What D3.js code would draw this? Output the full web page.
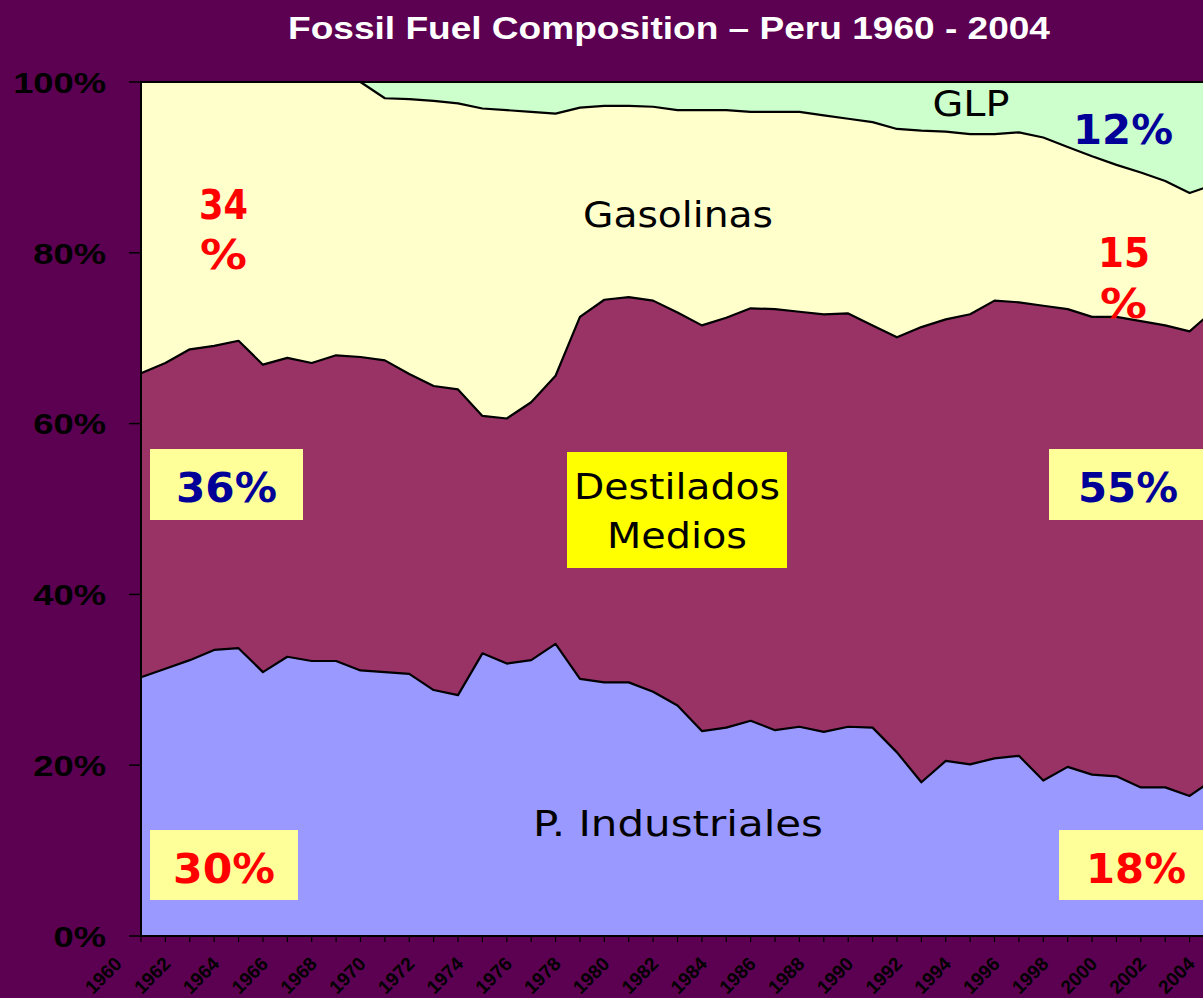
<!DOCTYPE html>
<html>
<head>
<meta charset="utf-8">
<script src="https://cdn.jsdelivr.net/npm/d3@7"></script>
<style>
  body { margin: 0; background: #5c0052; overflow: hidden; }
  svg { display: block; }
</style>
</head>
<body>
<svg id="chart" width="1203" height="998"></svg>
<script>
// Shares (%) of each fuel per year.
var years = d3.range(1960, 2005);
var industriales = [30.3, 31.3, 32.3, 33.5, 33.7, 30.9, 32.7, 32.2, 32.2, 31.1,
  30.9, 30.7, 28.8, 28.2, 33.1, 31.9, 32.3, 34.2, 30.1, 29.7,
  29.7, 28.6, 27.0, 24.0, 24.4, 25.2, 24.1, 24.5, 23.9, 24.5,
  24.4, 21.5, 18.0, 20.5, 20.1, 20.8, 21.1, 18.2, 19.8, 18.9,
  18.7, 17.4, 17.4, 16.4, 18.4];
var destilados = [35.6, 35.8, 36.4, 35.6, 36.0, 36.0, 35.0, 34.9, 35.8, 36.7,
  36.5, 35.1, 35.6, 35.8, 27.8, 28.7, 30.2, 31.4, 42.4, 44.8,
  45.1, 45.8, 46.0, 47.5, 48.0, 48.3, 49.3, 48.6, 48.9, 48.4,
  47.1, 48.6, 53.3, 51.7, 52.7, 53.6, 53.1, 55.6, 53.6, 53.6,
  53.8, 54.6, 54.1, 54.4, 54.9];
var gasolinas = [34.1, 32.9, 31.3, 30.9, 30.3, 33.1, 32.3, 32.9, 32.0, 32.2,
  30.7, 32.2, 33.4, 33.5, 36.0, 36.1, 34.0, 30.7, 24.5, 22.7,
  22.4, 22.7, 23.7, 25.2, 24.3, 23.0, 23.1, 23.4, 23.3, 22.8,
  23.8, 24.4, 23.0, 22.0, 21.1, 19.5, 19.9, 19.7, 19.0, 18.8,
  17.8, 17.4, 16.9, 16.2, 14.7];
var glp = [0, 0, 0, 0, 0, 0, 0, 0, 0, 0,
  1.9, 2.0, 2.2, 2.5, 3.1, 3.3, 3.5, 3.7, 3.0, 2.8,
  2.8, 2.9, 3.3, 3.3, 3.3, 3.5, 3.5, 3.5, 3.9, 4.3,
  4.7, 5.5, 5.7, 5.8, 6.1, 6.1, 5.9, 6.5, 7.6, 8.7,
  9.7, 10.6, 11.6, 13.0, 12.0];
var seriesKeys = ["industriales", "destilados", "gasolinas", "glp"];
var yTicks = [0, 20, 40, 60, 80, 100];
var xLabelYears = d3.range(1960, 2005, 2);

var colors = {industriales: "#9999ff", destilados: "#993366",
              gasolinas: "#ffffcc", glp: "#ccffcc"};

var rows = years.map(function(y, i){
  return {year: y, industriales: industriales[i], destilados: destilados[i],
          gasolinas: gasolinas[i], glp: glp[i]};
});

var svg = d3.select("#chart");
// the plot runs a little past the right edge of the window, as in the original
var pLeft = 141, pRight = 1214, pTop = 82, pBottom = 936;
var x = d3.scaleLinear().domain([1960, 2004]).range([pLeft, pRight]);
var y = d3.scaleLinear().domain([0, 100]).range([pBottom, pTop]);

// stretch a text horizontally, the way the original chart fonts are widened
function widen(sel, k){
  sel.each(function(){
    var w = this.getComputedTextLength();
    d3.select(this).attr("textLength", w * k).attr("lengthAdjust", "spacingAndGlyphs");
  });
}
function fit(sel, w){
  sel.attr("textLength", w).attr("lengthAdjust", "spacingAndGlyphs");
}

// title
svg.append("text")
  .attr("x", 669).attr("y", 39)
  .attr("text-anchor", "middle")
  .style("font-family", "Liberation Sans, Arial, sans-serif")
  .style("font-weight", "bold").style("font-size", "31px")
  .style("fill", "#ffffff")
  .text("Fossil Fuel Composition \u2013 Peru 1960 - 2004")
  .call(fit, 762);

// stacked areas
var stacked = d3.stack().keys(seriesKeys)(rows);
var area = d3.area()
  .x(function(d){ return x(d.data.year); })
  .y0(function(d){ return y(d[0]); })
  .y1(function(d){ return y(d[1]); });
var topLine = d3.line()
  .x(function(d){ return x(d.data.year); })
  .y(function(d){ return y(d[1]); });

var plot = svg.append("g");
plot.selectAll("path.area").data(stacked).enter().append("path")
  .attr("class", "area")
  .attr("d", area)
  .style("fill", function(s){ return colors[s.key]; });
plot.selectAll("path.edge").data(stacked.slice(0, 3)).enter().append("path")
  .attr("class", "edge")
  .attr("d", topLine)
  .style("fill", "none").style("stroke", "#000").style("stroke-width", 2.2)
  .style("stroke-linejoin", "round");
plot.append("rect")
  .attr("x", pLeft).attr("y", pTop)
  .attr("width", pRight - pLeft).attr("height", pBottom - pTop)
  .style("fill", "none").style("stroke", "#000").style("stroke-width", 2);

// y axis
var yAxis = svg.append("g");
yAxis.selectAll("line").data(yTicks).enter().append("line")
  .attr("x1", pLeft - 12).attr("x2", pLeft)
  .attr("y1", function(d){ return y(d); }).attr("y2", function(d){ return y(d); })
  .style("stroke", "#000").style("stroke-width", 1.5);
yAxis.selectAll("text").data(yTicks).enter().append("text")
  .attr("x", 106).attr("y", function(d){ return y(d); })
  .attr("dy", "0.36em")
  .attr("text-anchor", "end")
  .style("font-family", "Liberation Sans, Arial, sans-serif")
  .style("font-weight", "bold").style("font-size", "30px")
  .style("fill", "#000")
  .text(function(d){ return d + "%"; })
  .call(widen, 1.21);

// x axis
var xAxis = svg.append("g");
xAxis.selectAll("line").data(years).enter().append("line")
  .attr("x1", function(d){ return x(d); }).attr("x2", function(d){ return x(d); })
  .attr("y1", pBottom).attr("y2", pBottom + 6)
  .style("stroke", "#000").style("stroke-width", 1.2);
xAxis.selectAll("text").data(xLabelYears).enter().append("text")
  .attr("transform", function(d){
    return "translate(" + (x(d) - 18) + "," + 965 + ") rotate(-45)";
  })
  .attr("text-anchor", "end")
  .style("font-family", "Liberation Sans, Arial, sans-serif")
  .style("font-weight", "bold").style("font-size", "19px")
  .style("fill", "#000")
  .text(function(d){ return d; });

// labels inside the chart
function note(txt, cx, by, size, w, color, bold){
  return svg.append("text")
    .attr("x", cx).attr("y", by)
    .attr("text-anchor", "middle")
    .style("font-family", "DejaVu Sans, Verdana, sans-serif")
    .style("font-weight", bold ? "bold" : "normal")
    .style("font-size", size + "px")
    .style("fill", color)
    .text(txt)
    .call(fit, w);
}
function box(x0, y0, w, h, color){
  svg.append("rect")
    .attr("x", x0).attr("y", y0).attr("width", w).attr("height", h)
    .style("fill", color);
}

note("GLP", 971, 116, 35, 77, "#000", false);
note("12%", 1123, 144, 41, 100, "#000099", true);
note("Gasolinas", 678, 227, 35, 190, "#000", false);
note("34", 223.5, 219, 41, 49, "#ff0000", true);
note("%", 223.5, 269, 41, 47, "#ff0000", true);
note("15", 1124, 267, 41, 52, "#ff0000", true);
note("%", 1123.5, 318, 41, 47, "#ff0000", true);

box(567, 452, 220, 116, "#ffff00");
note("Destilados", 677, 499, 35, 206, "#000", false);
note("Medios", 677, 548, 35, 140, "#000", false);

box(150, 449, 153, 71, "#ffff99");
note("36%", 226.5, 502, 41, 101, "#000099", true);
box(1049, 449, 170, 71, "#ffff99");
note("55%", 1128, 502, 41, 100, "#000099", true);

note("P. Industriales", 678, 836, 35, 290, "#000", false);
box(150, 830, 148, 70, "#ffff99");
note("30%", 224, 883, 41, 102, "#ff0000", true);
box(1059, 830, 160, 70, "#ffff99");
note("18%", 1136, 883, 41, 100, "#ff0000", true);
</script>
</body>
</html>
